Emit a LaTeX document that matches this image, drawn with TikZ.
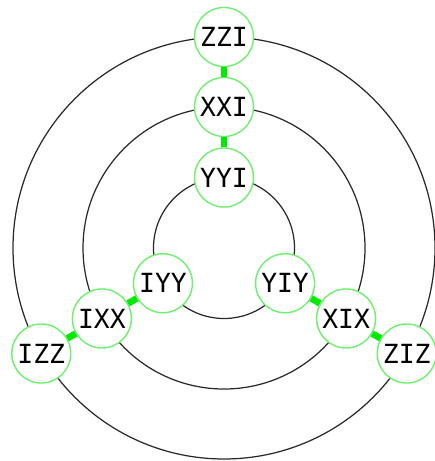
\documentclass[tikz,border=0pt]{standalone}
\usepackage{fontspec}
\setmonofont{DejaVu Sans Mono}
\usepackage{tikz}
\usetikzlibrary{positioning, arrows.meta}
\definecolor{ringgray}{RGB}{40,40,40}
\definecolor{nodegreen}{RGB}{110,240,110}
\definecolor{linkgreen}{RGB}{0,235,0}
\tikzstyle{green_node}=[circle, draw=nodegreen, fill=white, line width=0.8pt, minimum size=11.8mm, inner sep=0pt, font=\ttfamily\fontsize{15}{15}\selectfont]
\tikzstyle{ring}=[draw=ringgray, line width=0.7pt]
\tikzstyle{link}=[draw=linkgreen, line width=3.8pt]

\begin{document}
\begin{tikzpicture}
    \useasboundingbox (-4.48, -4.26) rectangle (4.20, 4.96);

    \draw[ring] (0,0) circle (1.41);
    \draw[ring] (0,0) circle (2.82);
    \draw[ring] (0,0) circle (4.22);

    \node[green_node] at (90:4.22) (zzi) {ZZI};
    \node[green_node] at (90:2.82) (xxi) {XXI};
    \node[green_node] at (90:1.41) (yyi) {YYI};
    \node[green_node] at (210:1.41) (iyy) {IYY};
    \node[green_node] at (210:2.82) (ixx) {IXX};
    \node[green_node] at (210:4.22) (izz) {IZZ};
    \node[green_node] at (330:1.41) (yiy) {YIY};
    \node[green_node] at (330:2.82) (xix) {XIX};
    \node[green_node] at (330:4.22) (ziz) {ZIZ};

    \draw[link] (zzi) -- (xxi);
    \draw[link] (xxi) -- (yyi);
    \draw[link] (izz) -- (ixx);
    \draw[link] (ixx) -- (iyy);
    \draw[link] (ziz) -- (xix);
    \draw[link] (xix) -- (yiy);
\end{tikzpicture}
\end{document}
